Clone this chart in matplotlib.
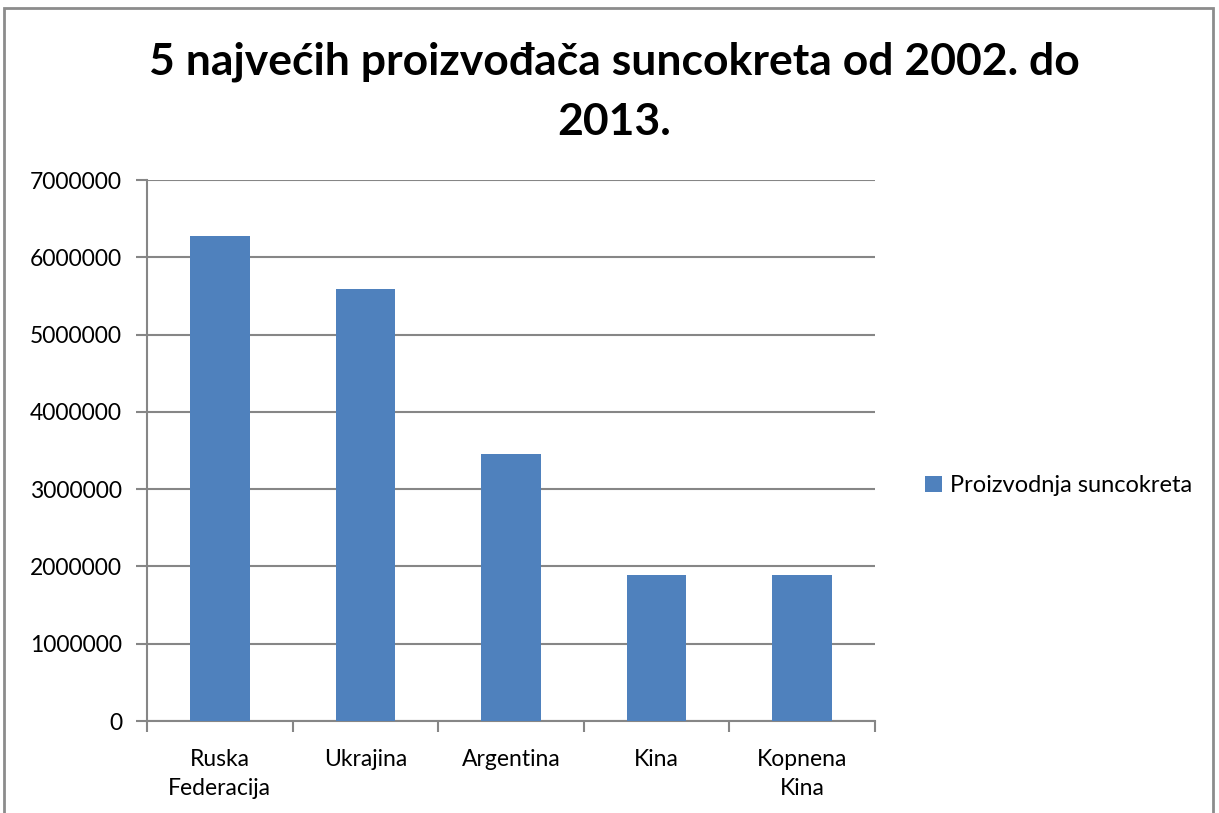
#!/usr/bin/env python3
import matplotlib
matplotlib.use('Agg')
import matplotlib.pyplot as plt
from matplotlib.patches import Rectangle
import numpy as np

categories = ['Ruska\nFederacija', 'Ukrajina', 'Argentina', 'Kina', 'Kopnena\nKina']
values = [6275000, 5590000, 3455000, 1890000, 1890000]
series_name = 'Proizvodnja suncokreta'
title = '5 najvećih proizvođača suncokreta od 2002. do\n2013.'
yticks = [0, 1000000, 2000000, 3000000, 4000000, 5000000, 6000000, 7000000]

bar_color = '#4F81BD'
grid_color = '#868686'

plt.rcParams['font.family'] = ['Lato', 'DejaVu Sans']


def main():
    fig = plt.figure(figsize=(12.19, 8.13), dpi=100)
    W, H = 1219, 813
    # axes from pixel box: left 147, right 875, top 180, bottom 721
    ax = fig.add_axes([147 / W, 1 - 721 / H, (875 - 147) / W, (721 - 180) / H])

    x = np.arange(len(categories))
    ax.bar(x, values, width=0.41, color=bar_color, label=series_name, zorder=3)

    ax.set_xlim(-0.5, len(categories) - 0.5)
    ax.set_ylim(0, 7000000)
    ax.set_yticks(yticks)
    ax.set_yticklabels([str(v) for v in yticks], fontsize=16.5)
    ax.yaxis.grid(True, color=grid_color, linewidth=1.5, zorder=0)

    ax.set_xticks(x)
    ax.set_xticklabels(categories, fontsize=16.5, linespacing=1.5)
    ax.tick_params(axis='x', length=0, pad=20)
    ax.set_xticks(np.arange(len(categories) + 1) - 0.5, minor=True)
    ax.tick_params(axis='x', which='minor', length=8, width=1.5, color=grid_color)
    ax.tick_params(axis='y', length=8, width=1.5, color=grid_color, pad=10)

    for s in ['top', 'right']:
        ax.spines[s].set_visible(False)
    for s in ['left', 'bottom']:
        ax.spines[s].set_color(grid_color)
        ax.spines[s].set_linewidth(1.5)

    fig.text(614 / W, 1 - 92 / H, title, ha='center', va='center',
             fontsize=32, fontweight='bold', linespacing=1.6)

    ax.legend(loc='center left', bbox_to_anchor=(1.04, 0.435), frameon=False,
              fontsize=17, handlelength=0.7, handleheight=0.7, handletextpad=0.35)

    # chart border
    fig.patches.append(Rectangle((4 / W, -0.05), (1213 - 4) / W, 1.05 - 8 / H,
                                 transform=fig.transFigure, fill=False,
                                 edgecolor='#8c8c8c', linewidth=2))

    fig.savefig('out.png', dpi=100)


if __name__ == '__main__':
    main()
